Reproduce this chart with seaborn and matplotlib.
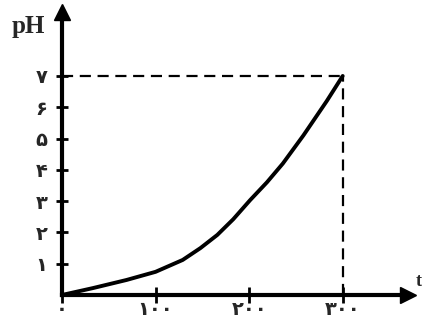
import matplotlib
matplotlib.use("Agg")
import matplotlib.pyplot as plt
import seaborn as sns

# data
t = [0, 33, 69, 100, 129, 148, 166, 183, 201, 219, 236, 258, 283, 300]
ph = [0, 0.22, 0.48, 0.74, 1.12, 1.5, 1.92, 2.42, 3.03, 3.6, 4.2, 5.1, 6.2, 7.0]

x_ticks = [0, 100, 200, 300]
x_labels = ["۰", "۱۰۰", "۲۰۰", "۳۰۰"]
y_ticks = [1, 2, 3, 4, 5, 6, 7]
y_labels = ["۱", "۲", "۳", "۴", "۵", "۶", "۷"]

sns.set_style("white")
plt.rcParams["font.family"] = ["DejaVu Sans"]

fig = plt.figure(figsize=(4.29, 3.27), dpi=100)
ax = fig.add_axes([0.1445, 0.0979, 0.807, 0.865])

sns.lineplot(x=t, y=ph, color="black", linewidth=2.8, ax=ax)

# dashed guides at the end point
ax.plot([0, t[-1]], [ph[-1], ph[-1]], color="black", lw=1.6, ls=(0, (5, 3)))
ax.plot([t[-1], t[-1]], [0, ph[-1]], color="black", lw=1.6, ls=(0, (5, 3)))

ax.set_xlim(0, 370)
ax.set_ylim(0, 9.04)

for s in ["top", "right"]:
    ax.spines[s].set_visible(False)
for s in ["left", "bottom"]:
    ax.spines[s].set_linewidth(3)
    ax.spines[s].set_color("black")

# arrow heads
ax.plot(1, 0, ">", color="black", ms=11, transform=ax.transAxes, clip_on=False)
ax.plot(0, 1, "^", color="black", ms=11, transform=ax.transAxes, clip_on=False)

ax.set_xticks(x_ticks)
ax.set_xticklabels(x_labels, fontsize=14, fontweight="bold")
ax.set_yticks(y_ticks)
ax.set_yticklabels(y_labels, fontsize=14, fontweight="bold")
ax.tick_params(axis="x", bottom=True, direction="inout", length=11, width=2,
               pad=-2, color="black")
ax.tick_params(axis="y", left=True, direction="inout", length=9, width=2,
               pad=6, color="black")

fig.text(28 / 429, 1 - 27 / 327, "pH", family="Liberation Serif", fontweight="bold",
         fontsize=18, ha="center", va="center")
fig.text(419 / 429, 1 - 281 / 327, "t", family="Liberation Serif", fontweight="bold",
         fontsize=13, ha="center", va="center")

fig.savefig("out.png", dpi=100)
